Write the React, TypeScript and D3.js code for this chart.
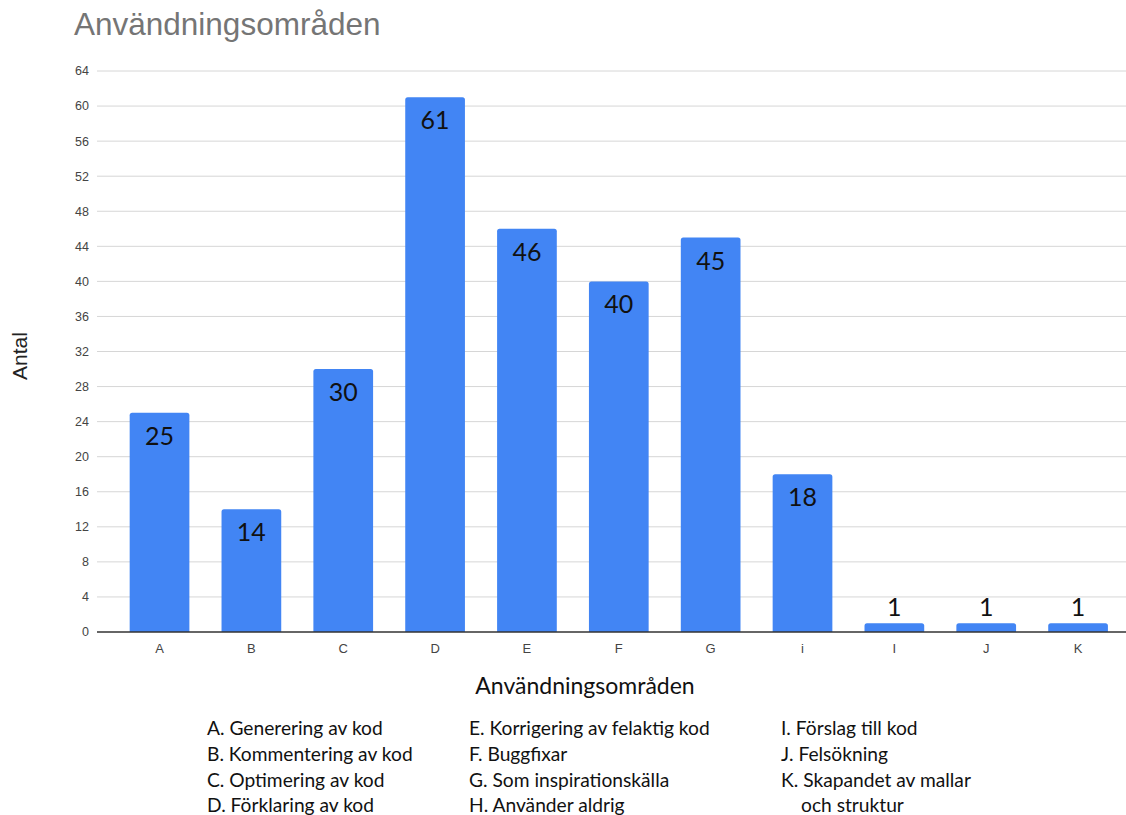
import React from "react";
import * as d3 from "d3";

// Chart data
const categories = ["A", "B", "C", "D", "E", "F", "G", "i", "I", "J", "K"];
const counts = [25, 14, 30, 61, 46, 40, 45, 18, 1, 1, 1];
const yTicks = d3.range(0, 65, 4);

const legendColumns: string[][] = [
  ["A. Generering av kod", "B. Kommentering av kod", "C. Optimering av kod", "D. Förklaring av kod"],
  ["E. Korrigering av felaktig kod", "F. Buggfixar", "G. Som inspirationskälla", "H. Använder aldrig"],
  ["I. Förslag till kod", "J. Felsökning", "K. Skapandet av mallar", "och struktur"],
];

const W = 1126;
const H = 815;
const plotLeft = 97;
const plotRight = 1126;
const plotTop = 71;
const plotBottom = 632;

const BAR = "#4285F4";
const CAL = "Lato, 'Open Sans', sans-serif";
const ARIAL = "'Liberation Sans', Arial, sans-serif";

function topRoundedRect(x: number, y: number, w: number, h: number, r: number) {
  const rr = Math.min(r, h, w / 2);
  return `M${x},${y + h} L${x},${y + rr} Q${x},${y} ${x + rr},${y} L${x + w - rr},${y} Q${x + w},${y} ${x + w},${y + rr} L${x + w},${y + h} Z`;
}

export default function App() {
  const x = d3
    .scaleBand<string>()
    .domain(categories)
    .range([113.6, 1124])
    .paddingInner(0.35)
    .paddingOuter(0.175);
  const y = d3.scaleLinear().domain([0, 64]).range([plotBottom, plotTop]);

  const legendX = [207, 469, 781];
  const legendY = [735, 761, 787, 812];

  return (
    <svg
      width={W}
      height={H}
      style={{ position: "absolute", left: 0, top: 0, background: "#fff" }}
    >
      <rect width={W} height={H} fill="#fff" />
      {/* Title */}
      <text x={74} y={35} fontFamily={ARIAL} fontSize={31.5} fill="#757575">
        Användningsområden
      </text>

      {/* Grid lines and y ticks */}
      {yTicks.map((t) => (
        <g key={t}>
          {t !== 0 && (
            <line x1={plotLeft} x2={plotRight} y1={y(t)} y2={y(t)} stroke="#d6d6d6" strokeWidth={1} />
          )}
          <text
            x={89}
            y={y(t)}
            dy="0.35em"
            textAnchor="end"
            fontFamily={ARIAL}
            fontSize={12.5}
            fill="#444"
          >
            {t}
          </text>
        </g>
      ))}

      {/* Bars */}
      {categories.map((c, i) => {
        const v = counts[i];
        const bx = x(c)!;
        const bw = x.bandwidth();
        const by = y(v);
        const bh = y(0) - by;
        const inside = bh > 40;
        return (
          <g key={c + i}>
            <path d={topRoundedRect(bx, by, bw, bh, 2.5)} fill={BAR} />
            <text
              x={bx + bw / 2}
              y={inside ? by + 32 : by - 7}
              textAnchor="middle"
              fontFamily={CAL}
              fontSize={25}
              fill="#111"
            >
              {v}
            </text>
          </g>
        );
      })}

      {/* Baseline */}
      <line x1={plotLeft} x2={plotRight} y1={y(0)} y2={y(0)} stroke="#333" strokeWidth={1.5} />

      {/* X tick labels */}
      {categories.map((c, i) => (
        <text
          key={"xt" + i}
          x={x(c)! + x.bandwidth() / 2}
          y={653}
          textAnchor="middle"
          fontFamily={ARIAL}
          fontSize={13}
          fill="#444"
        >
          {c}
        </text>
      ))}

      {/* Axis titles */}
      <text
        x={585}
        y={694}
        textAnchor="middle"
        fontFamily={CAL}
        fontSize={23}
        fill="#111"
      >
        Användningsområden
      </text>
      <text
        transform={`translate(27,356) rotate(-90)`}
        textAnchor="middle"
        fontFamily={ARIAL}
        fontSize={21}
        fill="#222"
      >
        Antal
      </text>

      {/* Category key */}
      {legendColumns.map((col, ci) =>
        col.map((line, ri) => (
          <text
            key={ci + "-" + ri}
            x={legendX[ci] + (ci === 2 && ri === 3 ? 20 : 0)}
            y={legendY[ri]}
            fontFamily={CAL}
            fontSize={19.2}
            fill="#111"
          >
            {line}
          </text>
        ))
      )}
    </svg>
  );
}
